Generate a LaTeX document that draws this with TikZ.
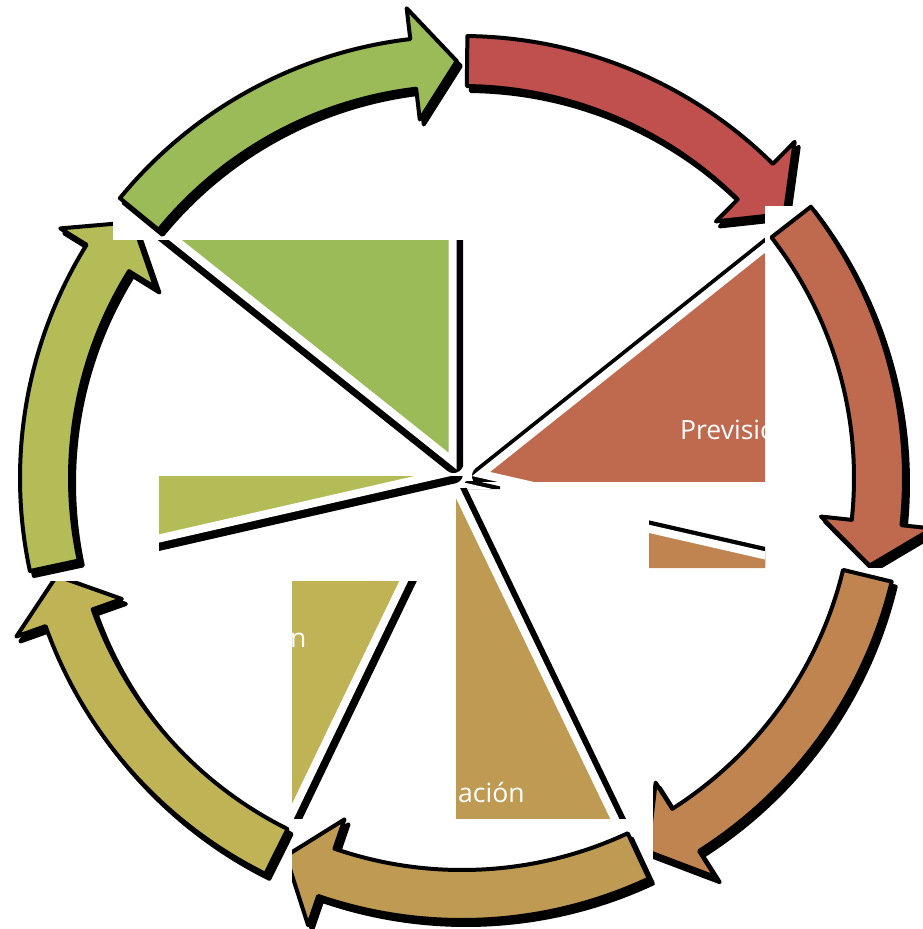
\documentclass[tikz,border=0pt]{standalone}
\usepackage{fontspec}
\setmainfont{Open Sans}
\usetikzlibrary{calc}
\definecolor{cycRed}{HTML}{C0504D}
\definecolor{cycRust}{HTML}{BF694E}
\definecolor{cycOrange}{HTML}{BF8450}
\definecolor{cycTan}{HTML}{BF9A52}
\definecolor{cycOlive}{HTML}{C0B356}
\definecolor{cycLime}{HTML}{B3BC56}
\definecolor{cycGreen}{HTML}{9BBB59}
\tikzset{
  cycShadow/.style={fill=black, draw=black, line width=4pt, line join=round},
  cycArrow/.style={draw=black, line width=4pt, line join=round},
  pieShadow/.style={draw=black, line width=20pt, line join=round},
  pieWedge/.style={draw=white, line width=8pt, line join=miter},
  pieLabel/.style={text=white, font=\fontsize{26.5}{30}\selectfont, inner sep=0pt, anchor=base west},
  maskBox/.style={fill=white}
}
\newcommand{\arrowshape}[2]{%
  \draw[#1] ({#2}:442) arc[start angle={#2}, end angle={#2-44}, radius=442pt]
    -- ({#2-44}:473) -- ({#2-50}:417) -- ({#2-44}:361) -- ({#2-44}:392)
    arc[start angle={#2-44}, end angle={#2}, radius=392pt] -- cycle;}
\newcommand{\cycarrow}[2]{%
  \arrowshape{cycShadow, shift={(466,-483)}}{#1}
  \arrowshape{cycArrow, fill=#2, shift={(462,-478)}}{#1}}
\newcommand{\piewedge}[4]{%
  \draw[pieShadow, shift={#1}, shift={(1,-2)}] (0,0) -- (#2:600) -- (#3:600) -- cycle;
  \draw[pieWedge, fill=#4, shift={#1}] (0,0) -- (#2:600) -- (#3:600) -- cycle;}

\begin{document}
\begin{tikzpicture}[x=1pt, y=1pt]
  \useasboundingbox (0,0) rectangle (923,-929);
  \begin{scope}
    \clip (113,-240) rectangle (463,-478);
    \piewedge{(452.5,-461)}{90}{141.43}{cycGreen}
  \end{scope}
  \begin{scope}
    \clip (465,-200) rectangle (765,-481);
    \piewedge{(481,-474)}{38.57}{-12.86}{cycRust}
    \node[pieLabel] (prevLabel) at (680,-439) {Previsio};
  \end{scope}
  \begin{scope}
    \clip (649,-518) rectangle (765,-568) (465,-481) rectangle (500,-489);
    \piewedge{(470,-488)}{-12.86}{-64.29}{cycOrange}
  \end{scope}
  \begin{scope}
    \clip (456,-488) rectangle (630,-818);
    \piewedge{(456,-489)}{-64.29}{-115.71}{cycTan}
    \node[pieLabel] (acionLabel) at (458,-802) {ación};
  \end{scope}
  \begin{scope}
    \clip (292,-581) rectangle (420,-818);
    \piewedge{(450,-485)}{-115.71}{-167.14}{cycOlive}
    \node[pieLabel] (nLabel) at (290,-647) {n};
  \end{scope}
  \begin{scope}
    \clip (159,-476) rectangle (470,-556);
    \piewedge{(452,-471.6)}{-167.14}{-218.57}{cycLime}
  \end{scope}

  \cycarrow{89.3}{cycRed}
  \fill[maskBox] (765,-206) rectangle (805,-262);
  \cycarrow{37.87}{cycRust}
  \fill[maskBox] (815,-568) rectangle (923,-600);
  \cycarrow{-13.56}{cycOrange}
  \fill[maskBox] (630,-770) rectangle (653,-900);
  \cycarrow{-64.99}{cycTan}
  \fill[maskBox] (240,-818) rectangle (292,-885);
  \cycarrow{-116.42}{cycOlive}
  \fill[maskBox] (0,-545) rectangle (130,-581);
  \cycarrow{-167.85}{cycLime}
  \fill[maskBox] (113,-215) rectangle (165,-240);
  \cycarrow{-219.28}{cycGreen}
\end{tikzpicture}
\end{document}
